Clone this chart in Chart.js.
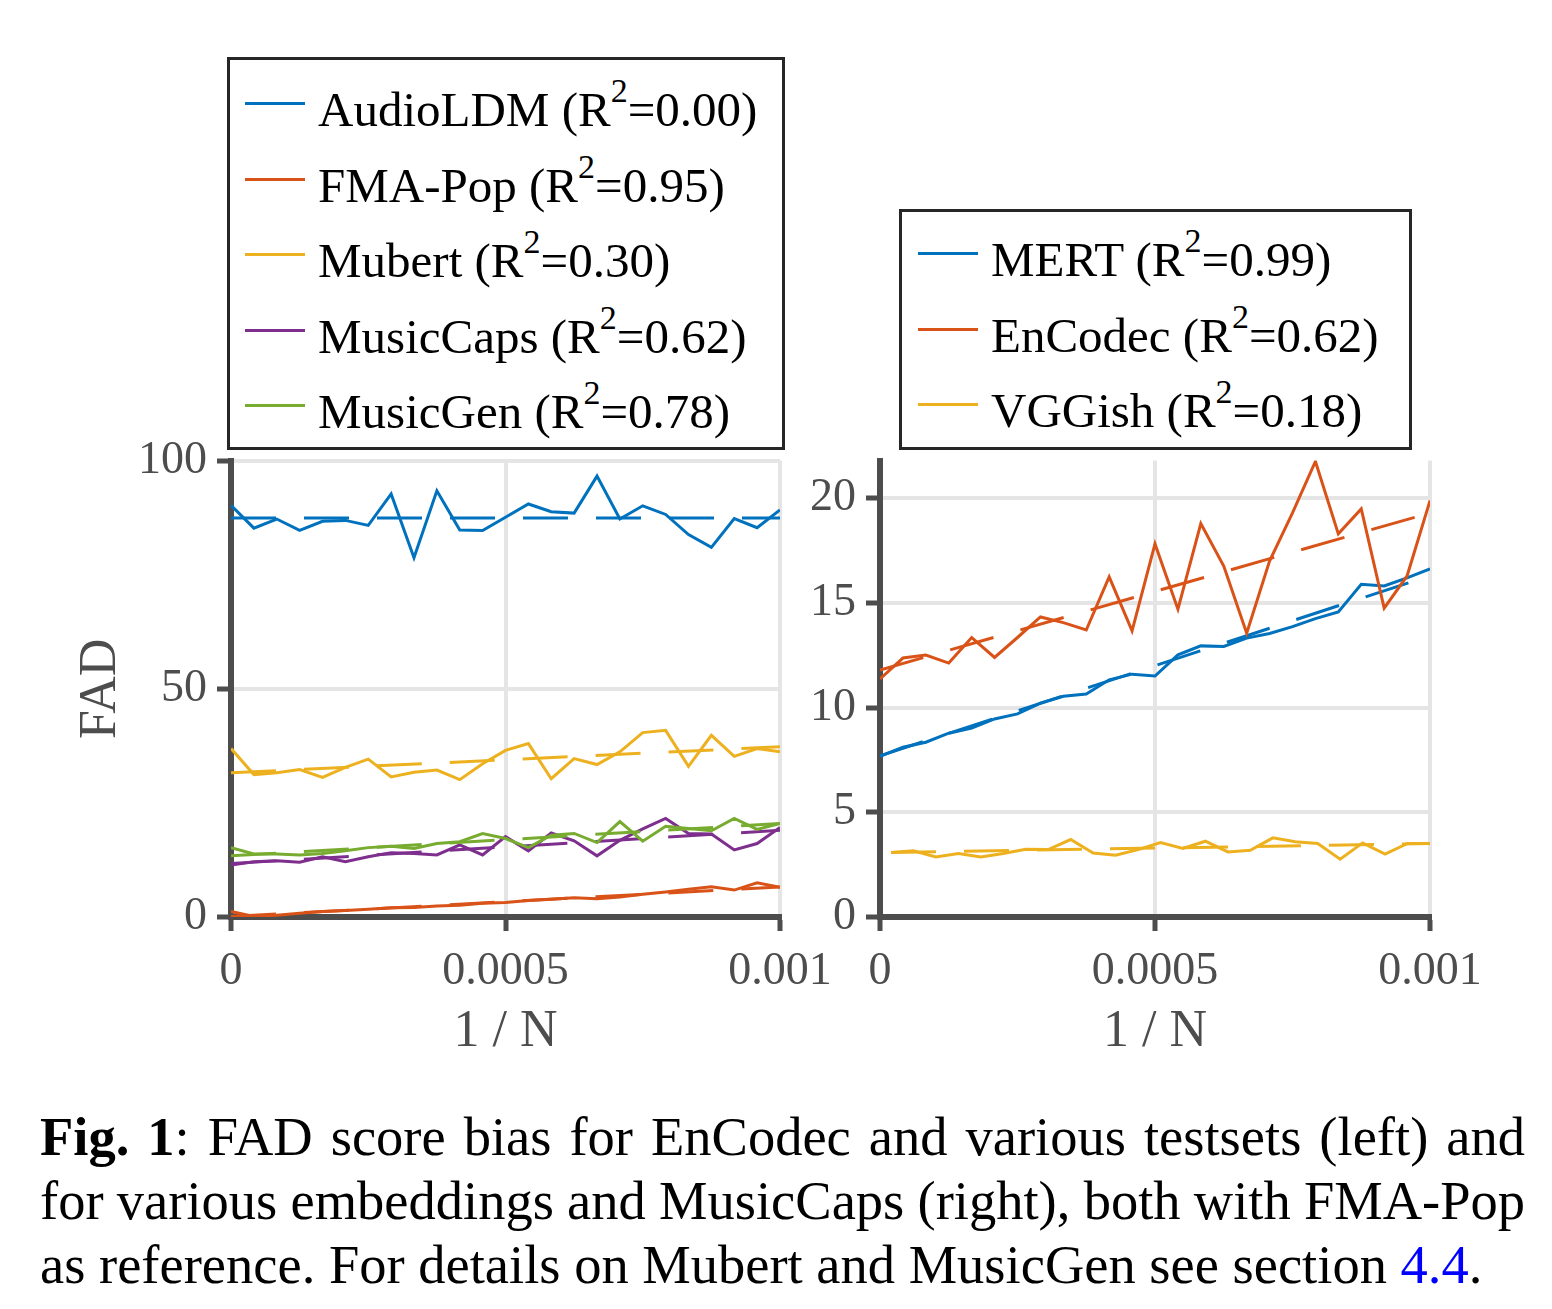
<!DOCTYPE html>
<html>
<head>
<meta charset="utf-8">
<script src="https://cdn.jsdelivr.net/npm/chart.js@4.4.0/dist/chart.umd.min.js"></script>
<style>
  body { margin: 0; width: 1552px; height: 1309px; background: #fff; position: relative; overflow: hidden;
         font-family: "Liberation Serif", "Times New Roman", serif; }
  canvas { position: absolute; }
  .legend { position: absolute; border: 3px solid #262626; background: #fff; box-sizing: border-box; }
  .row { position: absolute; height: 60px; line-height: 60px; font-size: 49px; white-space: nowrap; color: #000; }
  .swatch { position: absolute; height: 3px; width: 60px; }
  .sup { font-size: 34px; position: relative; top: -24px; }
  .cap { position: absolute; left: 40px; width: 1485px; font-size: 54.5px; line-height: 64px; color: #000;
         text-align: justify; text-align-last: justify; white-space: nowrap; }
  .cap.last { text-align-last: left; }
</style>
</head>
<body>
<canvas id="leftChart" width="850" height="657" style="left:0;top:423px"></canvas>
<canvas id="rightChart" width="700" height="657" style="left:800px;top:423px"></canvas>
<div id="legendLeft" class="legend" style="left:227px;top:57px;width:558px;height:393px"></div>
<div id="legendRight" class="legend" style="left:899px;top:209px;width:513px;height:241px"></div>
<div class="cap" style="top:1105px"><b>Fig. 1</b>: FAD score bias for EnCodec and various testsets (left) and</div>
<div class="cap" style="top:1169px;word-spacing:-4px">for various embeddings and MusicCaps (right), both with FMA-Pop</div>
<div class="cap last" style="top:1233px">as reference. For details on Mubert and MusicGen see section <span style="color:#0000ff">4.4</span>.</div>

<script>
// x positions (1/N)
const xLeft = [0, 0.0000417, 0.0000833, 0.000125, 0.0001667, 0.0002083, 0.00025, 0.0002917, 0.0003333,
  0.000375, 0.0004167, 0.0004583, 0.0005, 0.0005417, 0.0005833, 0.000625, 0.0006667, 0.0007083,
  0.00075, 0.0007917, 0.0008333, 0.000875, 0.0009167, 0.0009583, 0.001];
const xVggish = [0.00002, 0.0000608, 0.0001017, 0.0001425, 0.0001833, 0.0002242, 0.000265, 0.0003058,
  0.0003467, 0.0003875, 0.0004283, 0.0004692, 0.00051, 0.0005508, 0.0005917, 0.0006325, 0.0006733,
  0.0007142, 0.000755, 0.0007958, 0.0008367, 0.0008775, 0.0009183, 0.0009592, 0.001];

// left panel: testsets (EnCodec embedding)
const audioldm = [90.2, 85.2, 87.2, 84.7, 86.7, 86.9, 85.8, 92.7, 78.7, 93.4, 84.8, 84.7, 87.6,
  90.5, 88.8, 88.5, 96.6, 87.2, 90.1, 88.2, 83.8, 81.0, 87.3, 85.3, 89.2];
const fmaPop = [1.2, 0.1, 0.4, 0.8, 1.2, 1.4, 1.7, 2.0, 2.1, 2.4, 2.6, 3.0, 3.2,
  3.6, 3.9, 4.2, 4.0, 4.4, 5.0, 5.5, 6.1, 6.6, 5.9, 7.5, 6.5];
const mubert = [36.9, 31.2, 31.6, 32.3, 30.6, 32.8, 34.6, 30.7, 31.7, 32.2, 30.1, 33.6, 36.5,
  38.0, 30.3, 34.7, 33.4, 36.2, 40.4, 40.9, 33.0, 39.8, 35.2, 36.9, 36.2];
const musiccaps = [11.4, 12.1, 12.3, 12.0, 13.2, 12.1, 13.2, 14.1, 13.9, 13.6, 15.8, 13.6, 17.6,
  14.5, 18.4, 16.7, 13.4, 16.8, 19.3, 21.6, 18.3, 18.2, 14.7, 16.1, 19.6];
const musicgen = [15.2, 13.8, 13.8, 13.6, 13.9, 14.5, 15.2, 15.5, 15.0, 16.1, 16.5, 18.3, 17.2,
  15.2, 17.9, 18.3, 16.3, 20.9, 16.6, 19.9, 19.4, 18.9, 21.6, 19.2, 20.5];

// right panel: embeddings (MusicCaps)
const mert = [7.67, 8.11, 8.35, 8.78, 9.02, 9.46, 9.70, 10.21, 10.54, 10.65, 11.33, 11.60, 11.51,
  12.52, 12.95, 12.92, 13.32, 13.54, 13.87, 14.25, 14.57, 15.89, 15.81, 16.20, 16.63];
const encodec = [11.37, 12.37, 12.51, 12.13, 13.35, 12.40, 13.35, 14.33, 14.06, 13.71, 16.25, 13.67, 17.82,
  14.70, 18.79, 16.76, 13.56, 17.0, 19.3, 21.76, 18.30, 19.49, 14.75, 16.29, 19.89];
const vggish = [3.08, 3.16, 2.87, 3.03, 2.87, 3.03, 3.24, 3.22, 3.70, 3.06, 2.95, 3.22, 3.56,
  3.27, 3.62, 3.11, 3.19, 3.78, 3.59, 3.51, 2.76, 3.54, 3.00, 3.51, 3.51];

// linear fits (value at first x, value at last x)
const audioldmFit = [87.4, 87.4];
const fmaPopFit = [0.1, 6.6];
const mubertFit = [31.6, 37.3];
const musiccapsFit = [11.7, 19.0];
const musicgenFit = [13.4, 20.5];
const mertFit = [7.7, 16.3];
const encodecFit = [11.8, 19.3];
const vggishFit = [3.08, 3.51];

const leftNames = ["AudioLDM", "FMA-Pop", "Mubert", "MusicCaps", "MusicGen"];
const leftR2 = ["0.00", "0.95", "0.30", "0.62", "0.78"];
const rightNames = ["MERT", "EnCodec", "VGGish"];
const rightR2 = ["0.99", "0.62", "0.18"];

const colors = ["#0072BD", "#D95319", "#EDB120", "#7E2F8E", "#77AC30"];
const serif = '"Liberation Serif", "Times New Roman", serif';
const axisGray = "#4d4d4d";

function pts(xs, ys) {
  return ys.map((y, i) => ({ x: xs[i], y: y }));
}

function buildDatasets(seriesList, xsList, fits, cols) {
  const ds = [];
  seriesList.forEach((s, i) => {
    const xs = xsList[i];
    ds.push({ data: pts(xs, s), borderColor: cols[i], borderWidth: 3, showLine: true,
      pointRadius: 0, tension: 0, order: 10 - i });
    ds.push({ data: pts([xs[0], xs[xs.length - 1]], fits[i]), borderColor: cols[i], borderWidth: 3,
      borderDash: [45, 28], showLine: true, pointRadius: 0, order: 10 - i });
  });
  return ds;
}

function fmtX(v) {
  return v === 0 ? "0" : String(Number(v.toFixed(4)));
}

function makeOptions(yMax, yTicks, yWidth, pad, showYTitle) {
  return {
    responsive: false,
    animation: false,
    devicePixelRatio: 1,
    layout: { padding: pad },
    plugins: { legend: { display: false }, tooltip: { enabled: false } },
    scales: {
      x: {
        type: "linear", min: 0, max: 0.001,
        afterBuildTicks: (s) => { s.ticks = [0, 0.0005, 0.001].map(v => ({ value: v })); },
        afterFit: (s) => { s.height = 163; },
        ticks: { callback: fmtX, color: axisGray, font: { family: serif, size: 46 }, padding: 13, maxRotation: 0 },
        grid: { color: "#e5e5e5", lineWidth: 4, tickColor: axisGray, tickLength: 14, tickWidth: 5 },
        border: { color: axisGray, width: 6 },
        title: { display: true, text: "1 / N", color: axisGray, font: { family: serif, size: 52 },
          padding: { top: 0, bottom: 16 } }
      },
      y: {
        min: 0, max: yMax,
        afterBuildTicks: (s) => { s.ticks = yTicks.map(v => ({ value: v })); },
        afterFit: (s) => { s.width = yWidth; },
        ticks: { color: axisGray, font: { family: serif, size: 46 }, padding: 10 },
        grid: { color: "#e5e5e5", lineWidth: 4, tickColor: axisGray, tickLength: 14, tickWidth: 5 },
        border: { color: axisGray, width: 6 },
        title: { display: showYTitle, text: "FAD", color: axisGray, font: { family: serif, size: 52 },
          padding: { top: 70, bottom: 0 } }
      }
    }
  };
}

new Chart(document.getElementById("leftChart"), {
  type: "scatter",
  data: {
    datasets: buildDatasets(
      [audioldm, fmaPop, mubert, musiccaps, musicgen],
      [xLeft, xLeft, xLeft, xLeft, xLeft],
      [audioldmFit, fmaPopFit, mubertFit, musiccapsFit, musicgenFit],
      colors)
  },
  options: makeOptions(100, [0, 50, 100], 231, { top: 30, right: 70, left: 0, bottom: 0 }, true)
});

new Chart(document.getElementById("rightChart"), {
  type: "scatter",
  data: {
    datasets: buildDatasets(
      [mert, encodec, vggish],
      [xLeft, xLeft, xVggish],
      [mertFit, encodecFit, vggishFit],
      colors)
  },
  options: makeOptions(21.8, [0, 5, 10, 15, 20], 80, { top: 30, right: 70, left: 0, bottom: 0 }, false)
});

// legends
function buildLegend(id, names, r2, baselines, swatchY, swatchX, textX) {
  const box = document.getElementById(id);
  const boxRect = box.getBoundingClientRect();
  names.forEach((n, i) => {
    const top = baselines[i] - 47 - boxRect.top - 3;
    const sw = document.createElement("div");
    sw.className = "swatch";
    sw.style.background = colors[i];
    sw.style.left = (swatchX - boxRect.left - 3) + "px";
    sw.style.top = (baselines[i] - swatchY - boxRect.top - 3 - 1.5) + "px";
    box.appendChild(sw);
    const row = document.createElement("div");
    row.className = "row";
    row.style.left = (textX - boxRect.left - 3) + "px";
    row.style.top = top + "px";
    row.innerHTML = n + ' (R<span class="sup">2</span>=' + r2[i] + ")";
    box.appendChild(row);
  });
}
buildLegend("legendLeft", leftNames, leftR2, [127, 203, 278, 354, 429], 24, 245, 318);
buildLegend("legendRight", rightNames, rightR2, [277, 353, 428], 24, 918, 991);
</script>
</body>
</html>
